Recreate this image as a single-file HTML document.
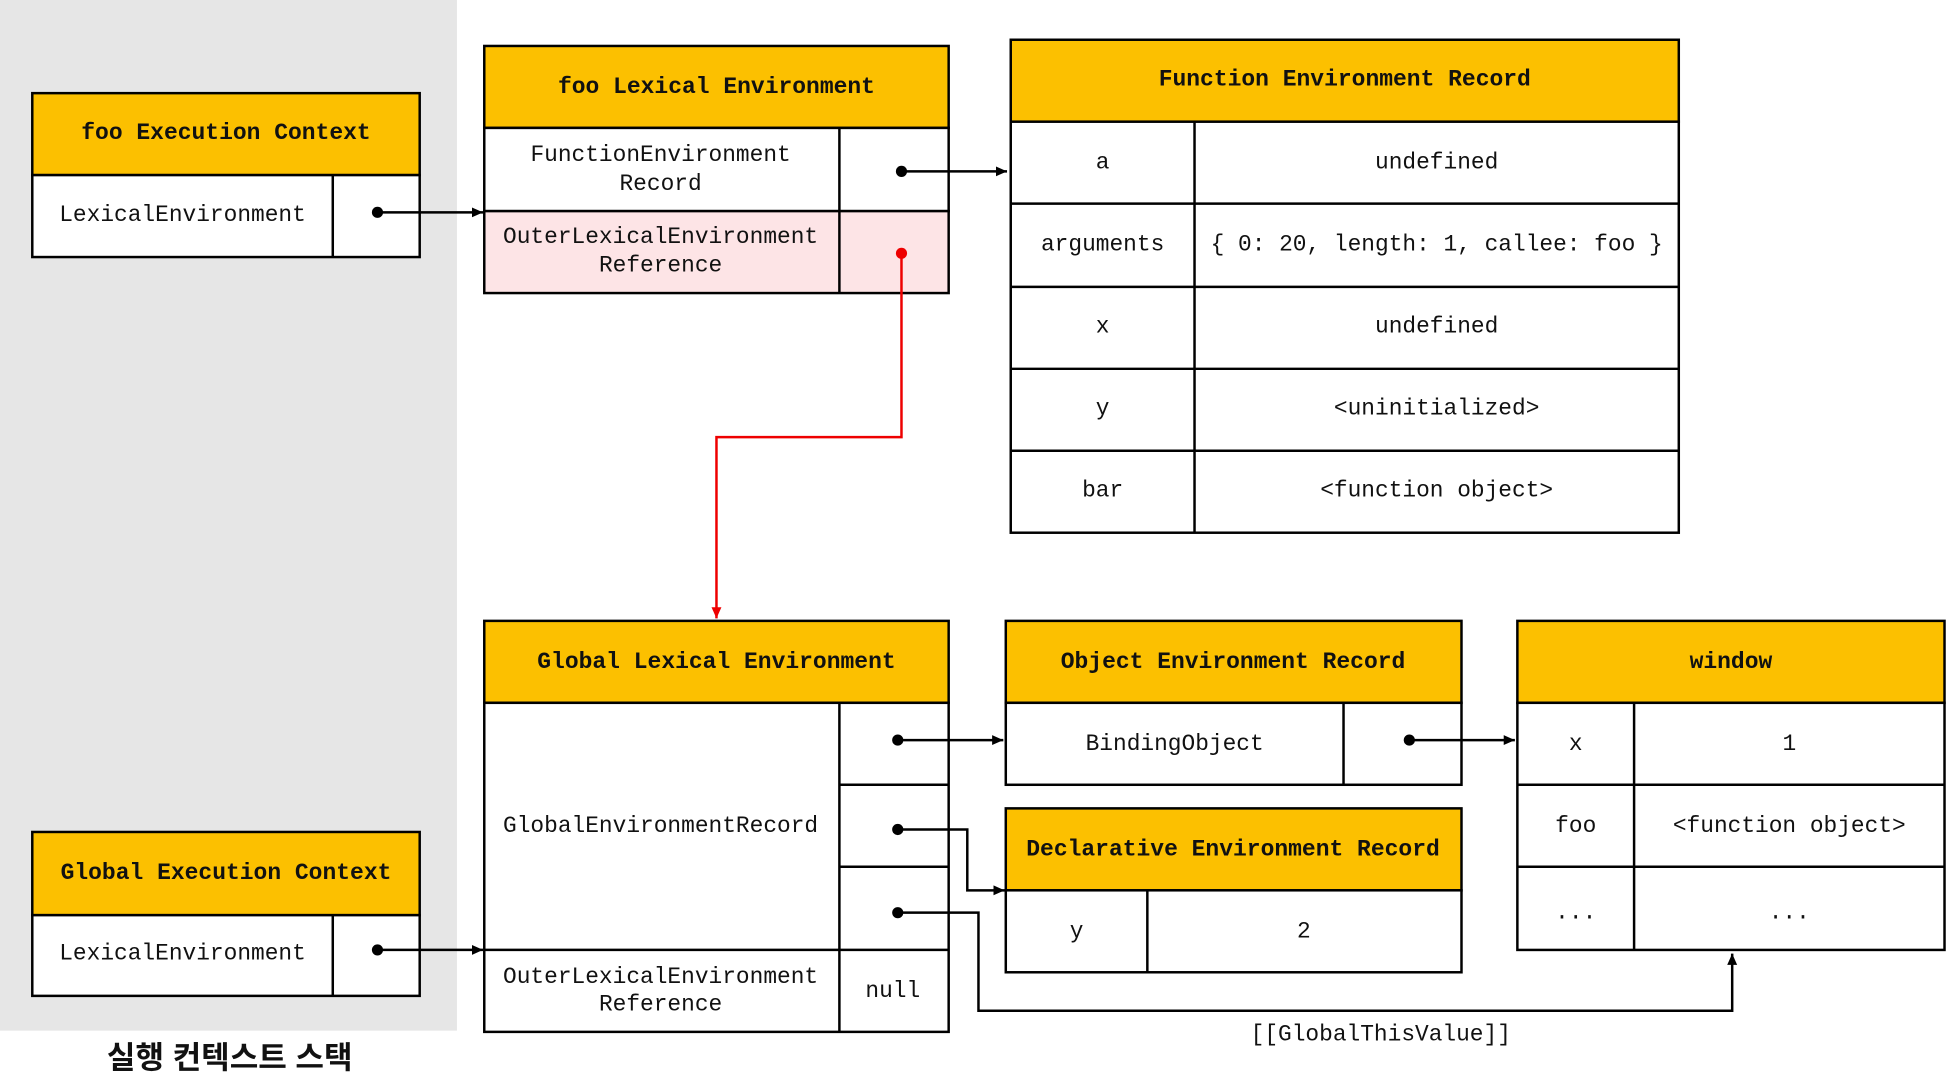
<!DOCTYPE html>
<html><head><meta charset="utf-8"><style>
html,body{margin:0;padding:0;background:#fff;}
svg{display:block}
text{font-family:"Liberation Mono","Noto Sans CJK KR",monospace;font-size:18.4px;fill:#111;}
.h{font-weight:bold;font-size:18.5px;}
.k{font-family:"Liberation Sans","Noto Sans CJK KR",sans-serif;font-weight:bold;font-size:25px;}
</style></head><body>
<svg width="1947" height="1091" viewBox="0 0 1568 878.6" xmlns="http://www.w3.org/2000/svg">
<defs>
<marker id="a" markerWidth="10" markerHeight="10" refX="9" refY="5" orient="auto" markerUnits="userSpaceOnUse"><path d="M0,1 L9,5 L0,9z" fill="#000"/></marker>
<marker id="r" markerWidth="10" markerHeight="10" refX="9" refY="5" orient="auto" markerUnits="userSpaceOnUse"><path d="M0,1 L9,5 L0,9z" fill="#e00"/></marker>
</defs>
<rect x="0" y="0" width="368" height="830" fill="#e6e6e6"/>
<g stroke="#000" stroke-width="2" fill="#fff">
<rect x="26" y="75" width="312" height="66" fill="#fcc000"/>
<rect x="26" y="141" width="312" height="66"/>
<line x1="268" y1="141" x2="268" y2="207"/>
<rect x="26" y="670" width="312" height="67" fill="#fcc000"/>
<rect x="26" y="737" width="312" height="65"/>
<line x1="268" y1="737" x2="268" y2="802"/>
<rect x="390" y="37" width="374" height="66" fill="#fcc000"/>
<rect x="390" y="103" width="374" height="67"/>
<rect x="390" y="170" width="374" height="66" fill="#fde4e6"/>
<line x1="676" y1="103" x2="676" y2="236"/>
<rect x="814" y="32" width="538" height="66" fill="#fcc000"/>
<rect x="814" y="98" width="538" height="331"/>
<line x1="814" y1="164" x2="1352" y2="164"/>
<line x1="814" y1="231" x2="1352" y2="231"/>
<line x1="814" y1="297" x2="1352" y2="297"/>
<line x1="814" y1="363" x2="1352" y2="363"/>
<line x1="962" y1="98" x2="962" y2="429"/>
<rect x="390" y="500" width="374" height="66" fill="#fcc000"/>
<rect x="390" y="566" width="374" height="265"/>
<line x1="676" y1="566" x2="676" y2="831"/>
<line x1="676" y1="632" x2="764" y2="632"/>
<line x1="676" y1="698" x2="764" y2="698"/>
<line x1="390" y1="765" x2="764" y2="765"/>
<rect x="810" y="500" width="367" height="66" fill="#fcc000"/>
<rect x="810" y="566" width="367" height="66"/>
<line x1="1082" y1="566" x2="1082" y2="632"/>
<rect x="810" y="651" width="367" height="66" fill="#fcc000"/>
<rect x="810" y="717" width="367" height="66"/>
<line x1="924" y1="717" x2="924" y2="783"/>
<rect x="1222" y="500" width="344" height="66" fill="#fcc000"/>
<rect x="1222" y="566" width="344" height="199"/>
<line x1="1222" y1="632" x2="1566" y2="632"/>
<line x1="1222" y1="698" x2="1566" y2="698"/>
<line x1="1316" y1="566" x2="1316" y2="765"/>
</g>
<g stroke="#000" stroke-width="2" fill="none">
<line x1="304" y1="171" x2="389" y2="171" marker-end="url(#a)"/>
<line x1="304" y1="765" x2="389" y2="765" marker-end="url(#a)"/>
<line x1="726" y1="138" x2="811" y2="138" marker-end="url(#a)"/>
<line x1="723" y1="596" x2="808" y2="596" marker-end="url(#a)"/>
<line x1="1135" y1="596" x2="1220" y2="596" marker-end="url(#a)"/>
<polyline points="723,668 779,668 779,717 809,717" marker-end="url(#a)"/>
<polyline points="723,735 788,735 788,814 1395,814 1395,768" marker-end="url(#a)"/>
</g>
<polyline points="726,204 726,352 577,352 577,498" stroke="#e00" stroke-width="2" fill="none" marker-end="url(#r)"/>
<g fill="#000">
<circle cx="304" cy="171" r="4.5"/><circle cx="304" cy="765" r="4.5"/>
<circle cx="726" cy="138" r="4.5"/><circle cx="723" cy="596" r="4.5"/>
<circle cx="723" cy="668" r="4.5"/><circle cx="723" cy="735" r="4.5"/>
<circle cx="1135" cy="596" r="4.5"/>
</g>
<circle cx="726" cy="204" r="4.5" fill="#e00"/>
<g text-anchor="middle" dominant-baseline="central">
<text class="h" x="182" y="107">foo Execution Context</text>
<text class="h" x="182" y="703">Global Execution Context</text>
<text class="h" x="577" y="70">foo Lexical Environment</text>
<text class="h" x="1083" y="64">Function Environment Record</text>
<text class="h" x="577" y="533">Global Lexical Environment</text>
<text class="h" x="993" y="533">Object Environment Record</text>
<text class="h" x="993" y="684">Declarative Environment Record</text>
<text class="h" x="1394" y="533">window</text>
<text x="147" y="173">LexicalEnvironment</text>
<text x="147" y="768">LexicalEnvironment</text>
<text x="532" y="125">FunctionEnvironment</text>
<text x="532" y="148">Record</text>
<text x="532" y="191">OuterLexicalEnvironment</text>
<text x="532" y="214">Reference</text>
<text x="888" y="131">a</text><text x="1157" y="131">undefined</text>
<text x="888" y="197">arguments</text><text x="1157" y="197">{ 0: 20, length: 1, callee: foo }</text>
<text x="888" y="263">x</text><text x="1157" y="263">undefined</text>
<text x="888" y="329">y</text><text x="1157" y="329">&lt;uninitialized&gt;</text>
<text x="888" y="395">bar</text><text x="1157" y="395">&lt;function object&gt;</text>
<text x="532" y="665">GlobalEnvironmentRecord</text>
<text x="532" y="787">OuterLexicalEnvironment</text>
<text x="532" y="809">Reference</text>
<text x="719" y="798">null</text>
<text x="946" y="599">BindingObject</text>
<text x="867" y="750">y</text><text x="1050" y="750">2</text>
<text x="1269" y="599">x</text><text x="1441" y="599">1</text>
<text x="1269" y="665">foo</text><text x="1441" y="665">&lt;function object&gt;</text>
<text x="1269" y="735">...</text><text x="1441" y="735">...</text>
<text x="1112" y="833">[[GlobalThisValue]]</text>
<text class="k" x="185" y="852">실행 컨텍스트 스택</text>
</g>
</svg>
</body></html>
